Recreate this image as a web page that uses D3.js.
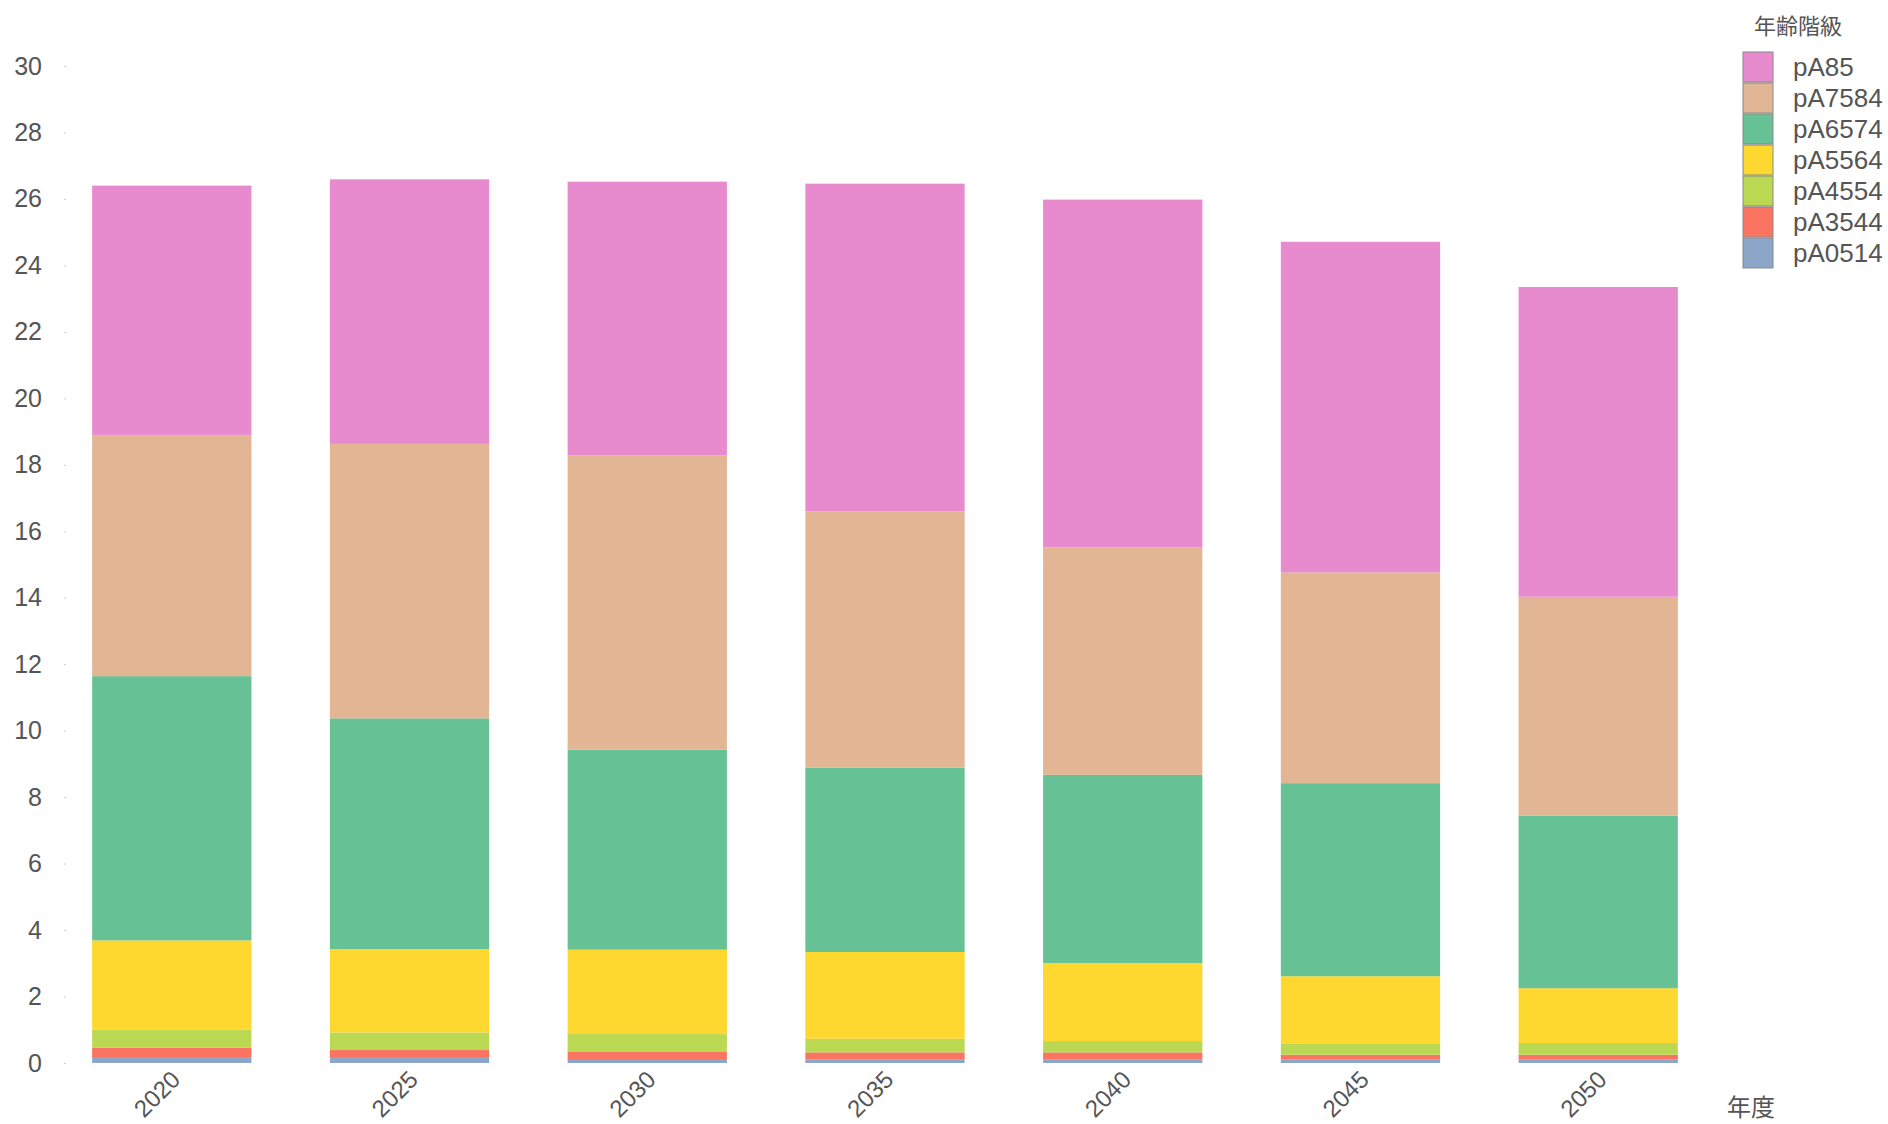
<!DOCTYPE html>
<html>
<head>
<meta charset="utf-8">
<script src="https://cdn.jsdelivr.net/npm/d3@7"></script>
<style>
  body { margin: 0; background: #fff; }
  svg text { font-family: "Liberation Sans", Arial, "Noto Sans CJK JP", sans-serif; fill: #555; }
  .cjk { font-family: "Noto Sans CJK JP", sans-serif; }
</style>
</head>
<body>
<div id="chart"></div>
<script>
  const years = ["2020", "2025", "2030", "2035", "2040", "2045", "2050"];
  // stacking order, bottom to top
  const groups = ["pA0514", "pA3544", "pA4554", "pA5564", "pA6574", "pA7584", "pA85"];
  const colors = ["#8ca6c9", "#fa7461", "#bad852", "#fed72f", "#66c295", "#e2b594", "#e78ace"];

  const pA0514 = [0.18, 0.18, 0.12, 0.10, 0.10, 0.10, 0.10];
  const pA3544 = [0.28, 0.21, 0.21, 0.22, 0.22, 0.15, 0.15];
  const pA4554 = [0.54, 0.53, 0.54, 0.41, 0.34, 0.34, 0.35];
  const pA5564 = [2.69, 2.51, 2.54, 2.61, 2.35, 2.02, 1.65];
  const pA6574 = [7.95, 6.94, 6.02, 5.55, 5.66, 5.81, 5.19];
  const pA7584 = [7.26, 8.26, 8.85, 7.71, 6.85, 6.34, 6.59];
  const pA85   = [7.50, 7.96, 8.24, 9.86, 10.46, 9.95, 9.32];

  const yTicks = [0, 2, 4, 6, 8, 10, 12, 14, 16, 18, 20, 22, 24, 26, 28, 30];

  const series = {pA0514, pA3544, pA4554, pA5564, pA6574, pA7584, pA85};
  const rows = years.map(function (y, i) {
    const r = {year: y};
    groups.forEach(function (g) { r[g] = series[g][i]; });
    return r;
  });

  const W = 1888, H = 1124;
  const svg = d3.select("#chart").append("svg")
    .attr("width", W)
    .attr("height", H);

  const x = d3.scaleBand()
    .domain(years)
    .range([66, 1704])
    .paddingInner(0.33)
    .paddingOuter(0.11);

  const y = d3.scaleLinear()
    .domain([0, 30])
    .range([1063, 66]);

  const color = d3.scaleOrdinal().domain(groups).range(colors);

  const stacked = d3.stack().keys(groups)(rows);

  svg.append("g")
    .selectAll("g")
    .data(stacked)
    .join("g")
    .attr("fill", function (d) { return color(d.key); })
    .selectAll("rect")
    .data(function (d) { return d; })
    .join("rect")
    .attr("x", function (d) { return x(d.data.year); })
    .attr("width", x.bandwidth())
    .attr("y", function (d) { return y(d[1]); })
    .attr("height", function (d) { return y(d[0]) - y(d[1]); });

  // y axis: labels and faint tick dots, no domain line
  const yAxis = svg.append("g")
    .attr("transform", "translate(66,0)")
    .call(d3.axisLeft(y).tickValues(yTicks).tickSize(2).tickPadding(22));
  yAxis.select(".domain").remove();
  yAxis.selectAll(".tick line").attr("stroke", "#ccc");
  yAxis.selectAll("text").style("font-size", "25px").attr("fill", "#555");

  // x axis: rotated year labels
  const xAxis = svg.append("g")
    .attr("transform", "translate(0,1063)")
    .call(d3.axisBottom(x).tickSize(0).tickPadding(0));
  xAxis.select(".domain").remove();
  xAxis.selectAll("text")
    .style("font-size", "24px")
    .attr("fill", "#555")
    .attr("text-anchor", "end")
    .attr("dy", "0")
    .attr("transform", "translate(10,18) rotate(-45)");

  svg.append("text")
    .attr("class", "cjk")
    .attr("x", 1751)
    .attr("y", 1116)
    .attr("text-anchor", "middle")
    .style("font-size", "24px")
    .text("年度");

  // legend, top item is the top of the stack
  const legend = svg.append("g").attr("transform", "translate(1743,52)");
  legend.append("text")
    .attr("class", "cjk")
    .attr("x", 55)
    .attr("y", -18)
    .attr("text-anchor", "middle")
    .style("font-size", "22px")
    .text("年齢階級");

  const items = legend.selectAll("g.item")
    .data(groups.slice().reverse())
    .join("g")
    .attr("class", "item")
    .attr("transform", function (d, i) { return "translate(0," + (i * 31) + ")"; });

  items.append("rect")
    .attr("width", 30)
    .attr("height", 30)
    .attr("fill", function (d) { return color(d); })
    .attr("stroke", "#888")
    .attr("stroke-width", 1);

  items.append("text")
    .attr("x", 50)
    .attr("y", 15)
    .attr("dy", "0.35em")
    .style("font-size", "26px")
    .attr("fill", "#555")
    .text(function (d) { return d; });
</script>
</body>
</html>
